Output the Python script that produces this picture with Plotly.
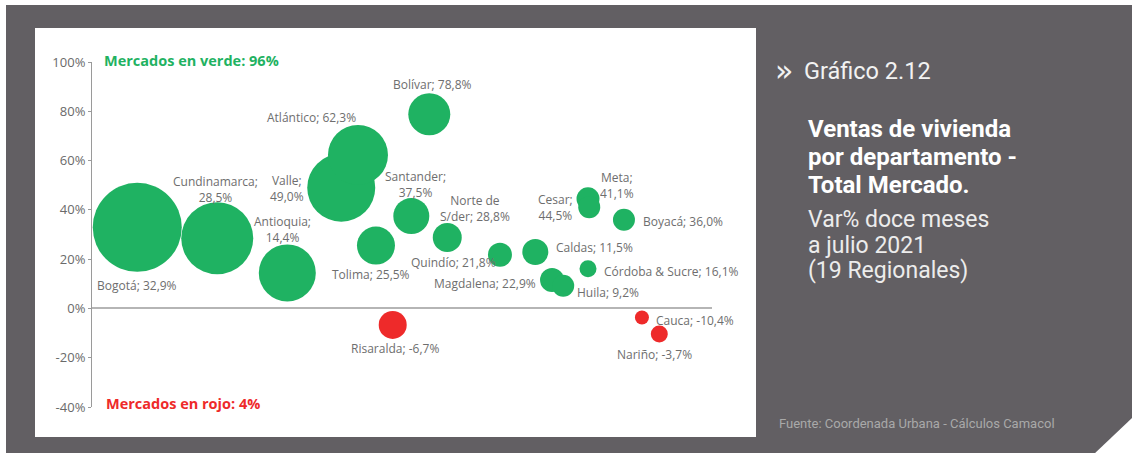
import plotly.graph_objects as go

# ---------------- data ----------------
departamentos = ["Bogotá", "Cundinamarca", "Antioquia", "Valle", "Atlántico", "Bolívar",
                 "Santander", "Tolima", "Norte de S/der", "Quindío", "Magdalena", "Caldas",
                 "Huila", "Cesar", "Meta", "Boyacá", "Córdoba & Sucre", "Risaralda",
                 "Nariño", "Cauca"]
var_pct = [32.9, 28.5, 14.4, 49.0, 62.3, 78.8, 37.5, 25.5, 28.8, 21.8, 22.9, 11.5,
           9.2, 44.5, 41.1, 36.0, 16.1, -6.7, -3.7, -10.4]
posicion = [7.3, 20.2, 31.5, 40.2, 42.9, 54.4, 51.5, 45.8, 57.3, 65.8, 71.5, 74.2,
            76.0, 80.0, 80.2, 85.8, 80.0, 48.5, 88.7, 91.5]
ventas = [19800, 12960, 8120, 11560, 9000, 4410, 3240, 3610, 2100, 1440, 1690, 1440,
          1210, 1320, 1210, 1210, 720, 1960, 490, 720]
y_ticks = [-40, -20, 0, 20, 40, 60, 80, 100]
y_tick_labels = ["-40%", "-20%", "0%", "20%", "40%", "60%", "80%", "100%"]

# ---------------- layout constants ----------------
W, H = 1132, 453
L, R, T, B = 92, 420, 62, 46
PW, PH = W - L - R, H - T - B
GREEN = "#1fb262"
RED = "#ee2a2a"
BG = "#625f63"
LABEL_COLOR = "#6e6e6e"

def px(x):
    return (x - L) / PW

def py(y):
    return (H - B - y) / PH

# label offsets (pixels) and line-break formats
label_layout = {
    "Bogotá": (0, -58, "{n}; {v}"),
    "Cundinamarca": (-2, 49, "{n};<br>{v}"),
    "Antioquia": (-5, 43, "{n};<br>{v}"),
    "Valle": (-54, -1, "{n};<br>{v}"),
    "Atlántico": (-46, 37, "{n}; {v}"),
    "Bolívar": (3, 30, "{n}; {v}"),
    "Santander": (4, 32, "{n};<br>{v}"),
    "Tolima": (-5, -29, "{n}; {v}"),
    "Norte de S/der": (28, 29, "Norte de<br>S/der; {v}"),
    "Quindío": (-46, -8, "{n}; {v}"),
    "Magdalena": (-50, -31, "{n}; {v}"),
    "Caldas": (42, 33, "{n}; {v}"),
    "Huila": (45, -7, "{n}; {v}"),
    "Cesar": (-33, -9, "{n};<br>{v}"),
    "Meta": (28, 22, "{n};<br>{v}"),
    "Boyacá": (59, -2, "{n}; {v}"),
    "Córdoba & Sucre": (83, -3, "{n}; {v}"),
    "Risaralda": (2, -24, "{n}; {v}"),
    "Nariño": (13, -37, "{n}; {v}"),
    "Cauca": (36, 14, "{n}; {v}"),
}

colors = [GREEN if v >= 0 else RED for v in var_pct]

fig = go.Figure()
fig.add_trace(go.Scatter(
    x=posicion, y=var_pct, mode="markers",
    marker=dict(size=ventas, sizemode="area", sizeref=5, color=colors,
                opacity=1, line=dict(width=0)),
    text=departamentos, hoverinfo="text+y", cliponaxis=False, showlegend=False,
))

annotations = []
for n, v, x, y in zip(departamentos, var_pct, posicion, var_pct):
    dx, dy, fmt = label_layout[n]
    vs = f"{v:.1f}%".replace(".", ",")
    annotations.append(dict(
        x=x, y=y, xref="x", yref="y", xshift=dx, yshift=dy,
        text=fmt.format(n=n, v=vs), showarrow=False,
        font=dict(family="Open Sans", size=12, color=LABEL_COLOR),
        xanchor="center", yanchor="middle", align="center",
    ))

# headers inside chart
annotations.append(dict(x=px(102), y=py(60), xref="paper", yref="paper",
                        text="<b>Mercados en verde: 96%</b>", showarrow=False,
                        xanchor="left", yanchor="middle",
                        font=dict(family="Open Sans", size=14.5, color=GREEN)))
annotations.append(dict(x=px(104), y=py(403), xref="paper", yref="paper",
                        text="<b>Mercados en rojo: 4%</b>", showarrow=False,
                        xanchor="left", yanchor="middle",
                        font=dict(family="Open Sans", size=14.5, color=RED)))

# right panel texts
annotations.append(dict(x=px(773), y=py(70), xref="paper", yref="paper",
                        text="»", showarrow=False, xanchor="left", yanchor="middle",
                        font=dict(family="DejaVu Sans", size=30, color="#f2f2f2")))
annotations.append(dict(x=px(802), y=py(71), xref="paper", yref="paper",
                        text="Gráfico 2.12", showarrow=False, xanchor="left", yanchor="middle",
                        font=dict(family="Roboto", size=23.5, color="#f2f2f2")))
for i, line in enumerate(["Ventas de vivienda", "por departamento -", "Total Mercado."]):
    annotations.append(dict(x=px(806), y=py(129 + 28 * i), xref="paper", yref="paper",
                            text=f"<b>{line}</b>", showarrow=False, xanchor="left",
                            yanchor="middle",
                            font=dict(family="Roboto", size=24, color="#ffffff")))
for i, line in enumerate(["Var% doce meses", "a julio 2021", "(19 Regionales)"]):
    annotations.append(dict(x=px(806), y=py(220 + 25 * i), xref="paper", yref="paper",
                            text=line, showarrow=False, xanchor="left", yanchor="middle",
                            font=dict(family="Roboto", size=23, color="#ececec")))
annotations.append(dict(x=px(777), y=py(423), xref="paper", yref="paper",
                        text="Fuente: Coordenada Urbana - Cálculos Camacol", showarrow=False,
                        xanchor="left", yanchor="middle",
                        font=dict(family="Roboto", size=13, color="#a9a9a9")))

shapes = [
    dict(type="rect", xref="paper", yref="paper", x0=px(6), x1=px(W + 2), y0=py(5), y1=py(H + 2),
         fillcolor=BG, line=dict(width=0), layer="below"),
    dict(type="rect", xref="paper", yref="paper", x0=px(35), x1=px(756), y0=py(28), y1=py(437),
         fillcolor="white", line=dict(width=0), layer="below"),
    dict(type="path", xref="paper", yref="paper",
         path=f"M {px(1093)} {py(H + 2)} L {px(W + 2)} {py(416)} L {px(W + 2)} {py(H + 2)} Z",
         fillcolor="white", line=dict(width=0), layer="below"),
]

fig.update_layout(
    width=W, height=H,
    margin=dict(l=L, r=R, t=T, b=B, pad=0),
    paper_bgcolor="white", plot_bgcolor="rgba(0,0,0,0)",
    xaxis=dict(range=[0, 100], visible=False, fixedrange=True),
    yaxis=dict(range=[-40, 100], tickvals=y_ticks, ticktext=y_tick_labels,
               showgrid=False, zeroline=True, zerolinecolor="#b5b5b5", zerolinewidth=2,
               showline=True, linecolor="#9a9a9a", linewidth=1,
               ticks="outside", ticklen=3, tickcolor="#9a9a9a",
               tickfont=dict(family="Open Sans", size=13, color="#6a6a6a")),
    annotations=annotations, shapes=shapes,
)

fig.write_html("out.html", config={"displayModeBar": False},
               post_script="document.body.style.margin='0px';document.body.style.overflow='hidden';")
